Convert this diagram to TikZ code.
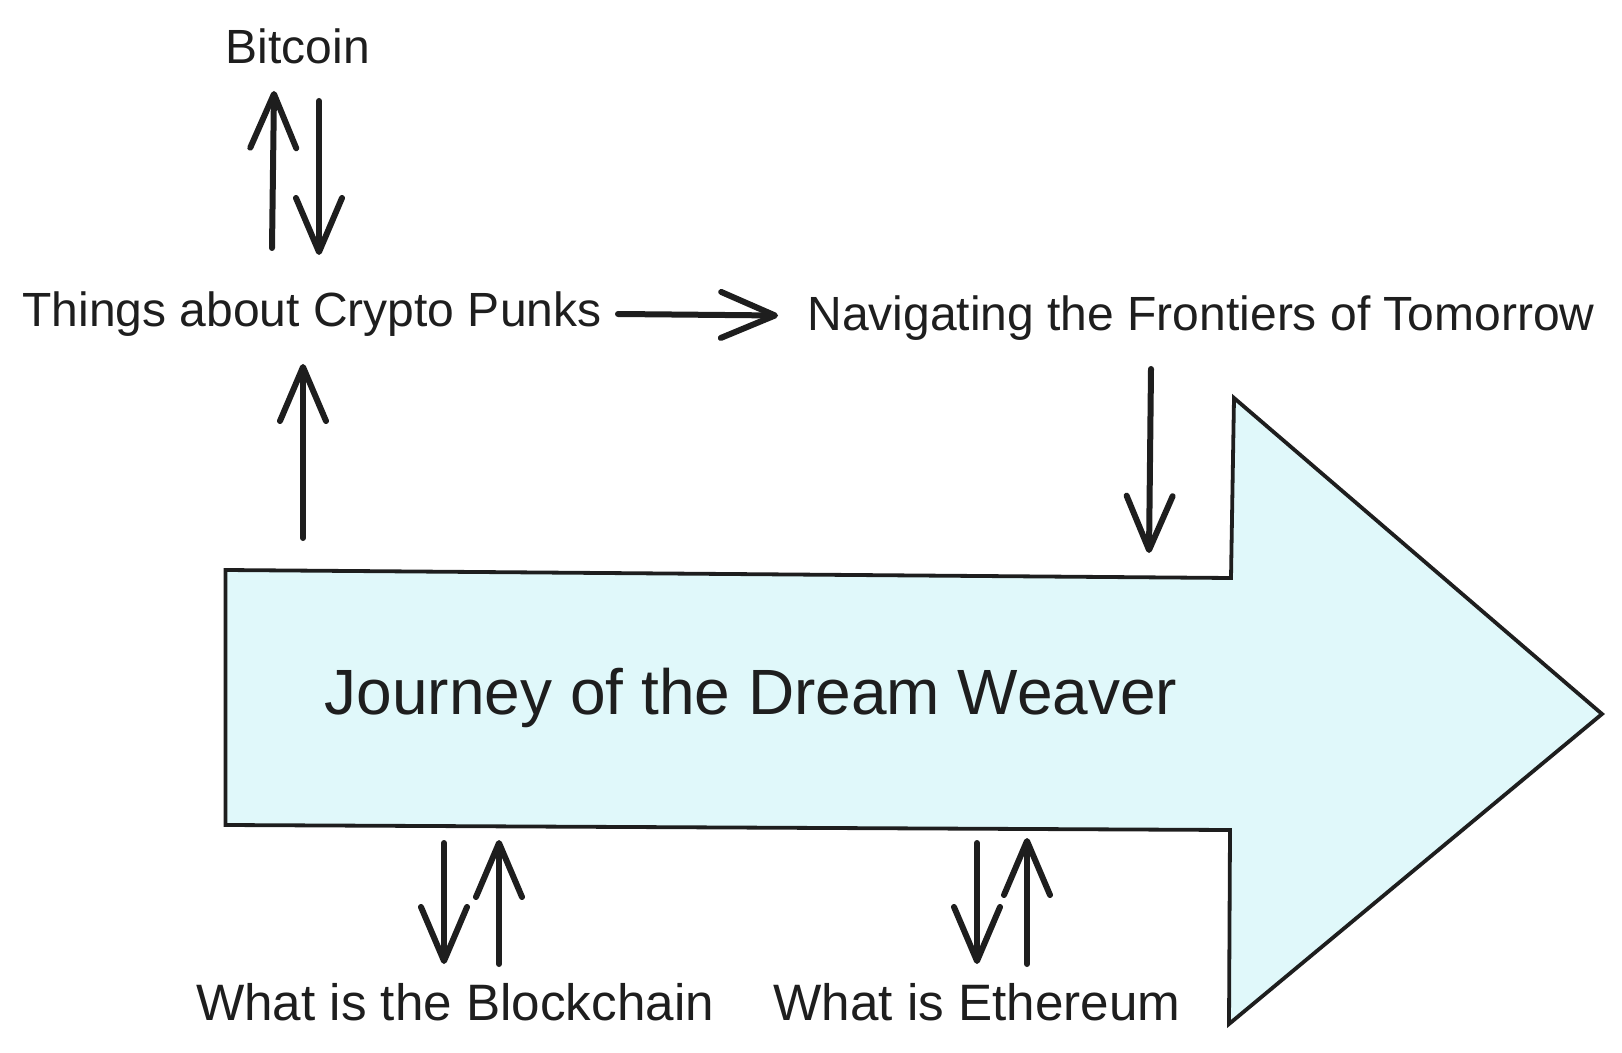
\documentclass[tikz,border=0pt]{standalone}
\usepackage{fontspec}
\setmainfont{Liberation Sans}
\usetikzlibrary{arrows.meta,calc}
\definecolor{ink}{HTML}{1E1E1E}
\definecolor{bigfill}{HTML}{E0F8FA}
\tikzset{
  lbl/.style={anchor=base,inner sep=0pt,text=ink,font=\fontsize{24}{28}\selectfont},
  lowlbl/.style={anchor=base,inner sep=0pt,text=ink,font=\fontsize{25.6}{30}\selectfont},
  biglbl/.style={anchor=base,inner sep=0pt,text=ink,font=\fontsize{32}{38}\selectfont},
  conn/.style={draw=ink,line width=3pt,line cap=round,line join=round,
    -{Straight Barb[length=27pt,width=23pt,line cap=round,line join=round]}},
  bigarrow/.style={draw=ink,fill=bigfill,line width=1.9pt,line join=miter}
}
\begin{document}
\begin{tikzpicture}[x=0.5pt,y=-0.5pt]
\useasboundingbox (0,0) rectangle (1622,1053);
% big arrow shape
\draw[bigarrow] (225.5,570) -- (1231,578) -- (1234,398) -- (1602,714) -- (1229,1024) -- (1230,830) -- (225.5,825) -- cycle;
% labels
\node[lbl] (bitcoin) at (298,64) {Bitcoin};
\node[lbl] (things) at (312,327) {Things about Crypto Punks};
\node[lbl] (nav) at (1201,331) {Navigating the Frontiers of Tomorrow};
\node[biglbl] (journey) at (751,714) {Journey of the Dream Weaver};
\node[lowlbl] (block) at (455,1020) {What is the Blockchain};
\node[lowlbl] (eth) at (977,1020) {What is Ethereum};
% connectors
\draw[conn] ($(things.base)+(-40,-79)$) -- ($(bitcoin.base)+(-24,27)$);
\draw[conn] ($(bitcoin.base)+(21,37)$) -- ($(things.base)+(7,-72)$);
\draw[conn] ($(journey.base)+(-448,-176)$) -- ($(things.base)+(-9,37)$);
\draw[conn] ($(things.base)+(306,-13)$) -- ($(nav.base)+(-423,-15.5)$);
\draw[conn] ($(nav.base)+(-50,38)$) -- ($(journey.base)+(398,-161)$);
\draw[conn] ($(journey.base)+(-307,129)$) -- ($(block.base)+(-11,-56)$);
\draw[conn] ($(block.base)+(44,-56)$) -- ($(journey.base)+(-252,126)$);
\draw[conn] ($(journey.base)+(226,129)$) -- ($(eth.base)+(0,-56)$);
\draw[conn] ($(eth.base)+(50,-56)$) -- ($(journey.base)+(276,124)$);
\end{tikzpicture}
\end{document}
